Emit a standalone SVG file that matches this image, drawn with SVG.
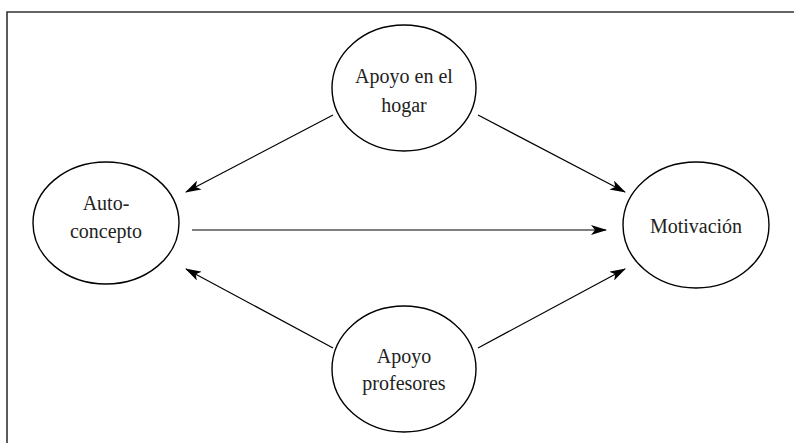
<svg xmlns="http://www.w3.org/2000/svg" width="794" height="443" viewBox="0 0 794 443">
  <style>
    .node ellipse { fill: #ffffff; stroke: #000000; stroke-width: 1.4; }
    .node text { font-family: "Liberation Serif", "DejaVu Serif", serif; font-size: 20px; fill: #222222; text-anchor: middle; }
    .edge { stroke: #000000; stroke-width: 1.2; fill: none; marker-end: url(#arrow); }
    .frame { stroke: #333333; stroke-width: 1.6; fill: none; }
  </style>
  <defs>
    <marker id="arrow" viewBox="0 0 16 10" refX="15" refY="5" markerWidth="16" markerHeight="10" markerUnits="userSpaceOnUse" orient="auto">
      <path d="M0,0 L16,5 L0,10 L4,5 z" fill="#000000"/>
    </marker>
  </defs>
  <rect width="794" height="443" fill="#ffffff"/>
  <!-- open frame: top and left edges only -->
  <path class="frame" d="M7,443 L7,12 L794,12"/>

  <g id="connectors">
    <line class="edge" x1="333" y1="115" x2="186" y2="192"/>
    <line class="edge" x1="478" y1="115" x2="625" y2="192"/>
    <line class="edge" x1="192" y1="230" x2="606" y2="230"/>
    <line class="edge" x1="333" y1="348" x2="186" y2="269"/>
    <line class="edge" x1="478" y1="348" x2="625" y2="269"/>
  </g>

  <g id="node-hogar" class="node">
    <ellipse cx="404" cy="88" rx="72" ry="63"/>
    <text x="404" y="83">Apoyo en el</text>
    <text x="404" y="112">hogar</text>
  </g>
  <g id="node-autoconcepto" class="node">
    <ellipse cx="106" cy="223" rx="73" ry="61"/>
    <text x="106" y="210">Auto-</text>
    <text x="106" y="238">concepto</text>
  </g>
  <g id="node-motivacion" class="node">
    <ellipse cx="696" cy="225" rx="73" ry="63"/>
    <text x="696" y="233">Motivación</text>
  </g>
  <g id="node-profesores" class="node">
    <ellipse cx="404" cy="369" rx="72" ry="63"/>
    <text x="404" y="363">Apoyo</text>
    <text x="404" y="390">profesores</text>
  </g>
</svg>
